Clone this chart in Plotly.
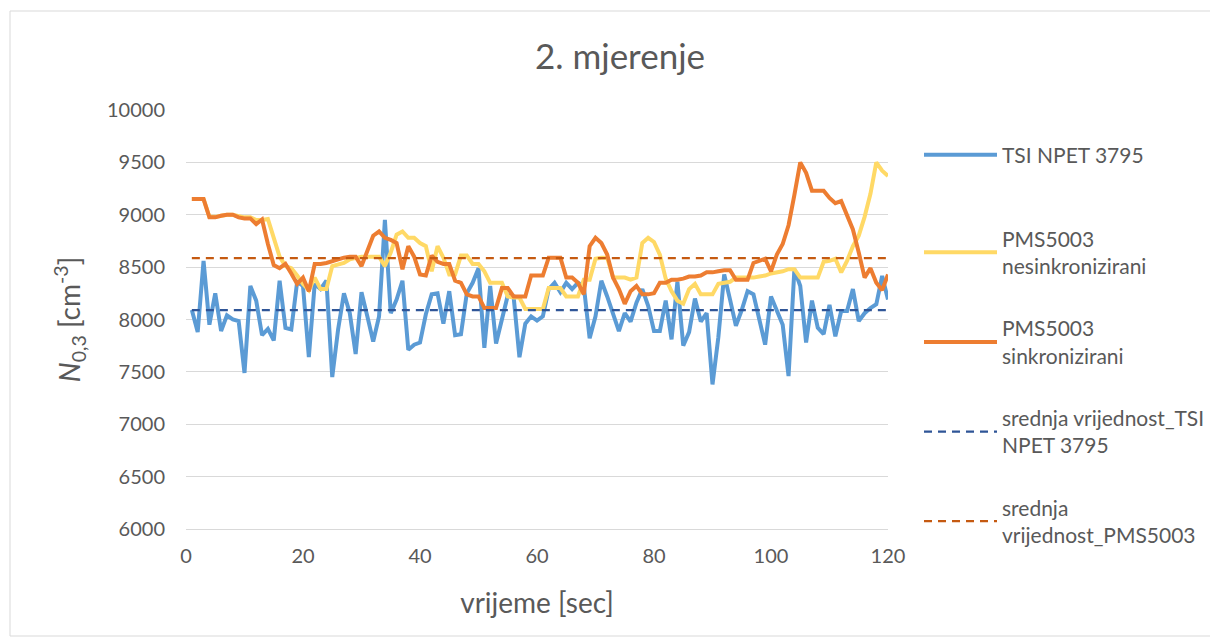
import plotly.graph_objects as go

seconds = list(range(1, 121))

tsi_npet = [
    8090, 7880, 8560, 7950, 8250, 7890, 8040, 8000, 7985, 7490,
    8320, 8180, 7850, 7910, 7800, 8370, 7920, 7905, 8360, 8320,
    7640, 8340, 8290, 8370, 7450, 7905, 8250, 8060, 7670, 8260,
    8030, 7790, 8030, 8950, 8060, 8190, 8370, 7710, 7760, 7780,
    8050, 8240, 8250, 7960, 8270, 7850, 7860, 8250, 8350, 8490,
    7730, 8320, 7770, 8000, 8230, 8220, 7640, 7960, 8030, 7990,
    8030, 8290, 8350, 8260, 8350, 8290, 8350, 8320, 7820, 8030,
    8370, 8220, 8060, 7890, 8060, 7980, 8160, 8290, 8130, 7890,
    7890, 8180, 7810, 8360, 7750, 7880, 8200, 7980, 8060, 7380,
    7830, 8430, 8190, 7940, 8090, 8270, 8240, 8000, 7760, 8220,
    8090, 7950, 7460, 8480, 8320, 7780, 8180, 7920, 7860, 8140,
    7840, 8080, 8080, 8290, 7985, 8060, 8110, 8145, 8415, 8190,
]

pms_nesink = [
    9150, 9150, 9150, 8980, 8980, 8990, 9000, 9000, 8990, 8975,
    8975, 8950, 8950, 8960, 8780, 8600, 8510, 8490, 8420, 8340,
    8280, 8400, 8290, 8290, 8510, 8530, 8540, 8575, 8590, 8600,
    8600, 8600, 8600, 8510, 8640, 8810, 8840, 8780, 8780, 8730,
    8700, 8460, 8700, 8590, 8430, 8430, 8610, 8610, 8530, 8530,
    8460, 8350, 8350, 8350, 8220, 8210, 8210, 8100, 8100, 8100,
    8100, 8300, 8300, 8300, 8220, 8220, 8220, 8380, 8380, 8580,
    8590, 8590, 8400, 8400, 8400, 8380, 8400, 8730, 8780, 8740,
    8620, 8390, 8270, 8180, 8150, 8290, 8340, 8240, 8240, 8240,
    8340, 8350, 8360, 8400, 8400, 8400, 8400, 8410, 8420, 8440,
    8450, 8460, 8480, 8480, 8400, 8400, 8400, 8400, 8550, 8560,
    8580, 8450, 8560, 8700, 8800, 8980, 9200, 9500, 9420, 9370,
]

pms_sink = [
    9150, 9150, 9150, 8975, 8975, 8990, 9000, 9000, 8975, 8965,
    8965, 8910, 8955, 8720, 8520, 8490, 8530, 8440, 8340, 8400,
    8270, 8530, 8530, 8540, 8560, 8570, 8590, 8600, 8600, 8510,
    8650, 8800, 8840, 8780, 8760, 8730, 8480, 8700, 8600, 8430,
    8420, 8610, 8550, 8530, 8530, 8370, 8350, 8240, 8220, 8220,
    8110, 8110, 8110, 8300, 8300, 8220, 8220, 8220, 8420, 8420,
    8420, 8590, 8590, 8590, 8400, 8400, 8350, 8240, 8700, 8780,
    8730, 8620, 8400, 8290, 8150, 8270, 8320, 8240, 8240, 8250,
    8350, 8350, 8380, 8380, 8390, 8410, 8410, 8420, 8450, 8450,
    8460, 8470, 8470, 8380, 8380, 8380, 8540, 8560, 8580, 8460,
    8620, 8720, 8900, 9190, 9500, 9400, 9230, 9230, 9230, 9160,
    9110, 9130, 9000, 8860, 8640, 8400, 8490, 8350, 8280, 8430,
]

tsi_mean = 8090
pms_mean = 8585

names = [
    "TSI NPET 3795",
    "PMS5003<br>nesinkronizirani",
    "PMS5003<br>sinkronizirani",
    "srednja vrijednost_TSI<br>NPET 3795",
    "srednja<br>vrijednost_PMS5003",
]

x_ticks = [0, 20, 40, 60, 80, 100, 120]
y_ticks = [6000, 6500, 7000, 7500, 8000, 8500, 9000, 9500, 10000]

FONT = "Lato, Carlito, Calibri, sans-serif"
TXT = "#595959"

# page offset (html body margin) ~8px
OFF = 8
PL, PT, PW, PH = 186, 110, 702, 419   # plot area in page pixels


def py(page_y):
    return (PT + PH - page_y) / PH


def px(page_x):
    return (page_x - PL) / PW


fig = go.Figure()
fig.add_trace(go.Scatter(x=seconds, y=tsi_npet, mode="lines", name=names[0], legend="legend",
                         line=dict(color="#5B9BD5", width=4)))
fig.add_trace(go.Scatter(x=seconds, y=pms_nesink, mode="lines", name=names[1], legend="legend2",
                         legendgroup="g1", line=dict(color="#FFD966", width=4)))
fig.add_trace(go.Scatter(x=seconds, y=pms_sink, mode="lines", name=names[2], legend="legend2",
                         legendgroup="g2", line=dict(color="#ED7D31", width=4)))
fig.add_trace(go.Scatter(x=[seconds[0], seconds[-1]], y=[tsi_mean, tsi_mean], mode="lines",
                         name=names[3], legend="legend2", legendgroup="g3",
                         line=dict(color="#2F5597", width=2.25, dash="8px,6px")))
fig.add_trace(go.Scatter(x=[seconds[0], seconds[-1]], y=[pms_mean, pms_mean], mode="lines",
                         name=names[4], legend="legend2", legendgroup="g4",
                         line=dict(color="#C55A11", width=2.25, dash="8px,6px")))

leg_common = dict(xanchor="left", yanchor="middle",
                  font=dict(size=21, color=TXT, family=FONT),
                  itemwidth=73, bgcolor="rgba(0,0,0,0)")

fig.update_layout(
    width=1218, height=640,
    paper_bgcolor="white", plot_bgcolor="white",
    margin=dict(l=PL - OFF, r=1218 - (PL - OFF) - PW, t=PT - OFF, b=640 - (PT - OFF) - PH),
    font=dict(family=FONT, color=TXT, size=20),
    title=dict(text="2. mjerenje", x=(620 - OFF) / 1218, xanchor="center",
               y=1 - (57 - OFF) / 640, yanchor="middle",
               font=dict(size=35, color=TXT, family=FONT)),
    showlegend=True,
    legend=dict(x=px(919), y=py(155), tracegroupgap=0, **leg_common),
    legend2=dict(x=px(919), y=py(387), tracegroupgap=32, traceorder="grouped", **leg_common),
    xaxis=dict(range=[0, 120], tickvals=x_ticks, ticktext=[str(v) for v in x_ticks],
               showgrid=False, zeroline=False, showline=True, linecolor="#D9D9D9",
               linewidth=1, ticks="", ticklen=0, ticklabelstandoff=9,
               title=dict(text="vrijeme [sec]", font=dict(size=28, color=TXT, family=FONT), standoff=27),
               tickfont=dict(size=20, color=TXT)),
    yaxis=dict(range=[6000, 10000], tickvals=y_ticks, ticktext=[str(v) for v in y_ticks],
               showgrid=True, gridcolor="#D9D9D9", gridwidth=1, zeroline=False,
               showline=False, ticks="", ticklen=0, ticklabelstandoff=20,
               title=dict(text="<i>N</i><sub>0,3</sub> [cm<sup>-3</sup>]",
                          font=dict(size=28, color=TXT, family=FONT), standoff=18),
               tickfont=dict(size=20, color=TXT)),
)

fig.add_shape(type="rect", xref="paper", yref="paper",
              x0=px(10), x1=px(1214), y0=py(636), y1=py(11),
              line=dict(color="#D9D9D9", width=1), fillcolor="rgba(0,0,0,0)", layer="below")

fig.write_html("out.html")
